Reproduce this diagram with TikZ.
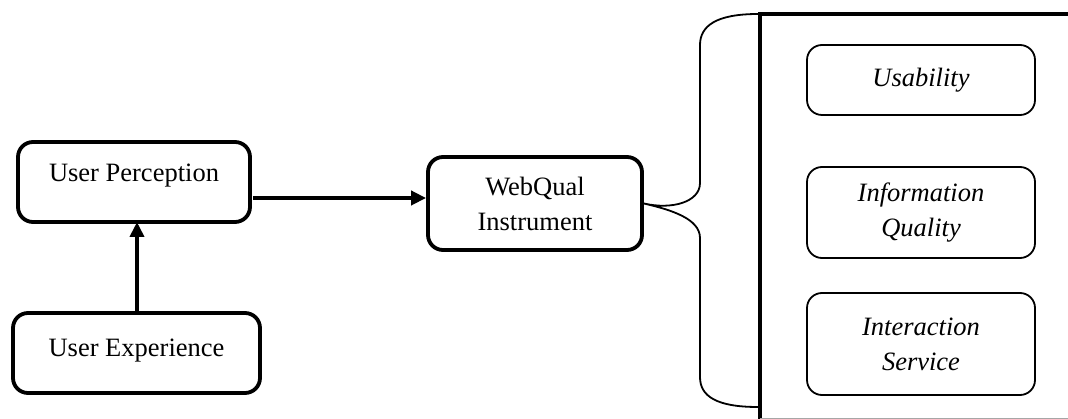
\documentclass[tikz,border=0pt]{standalone}
\usepackage{fontspec}
\setmainfont{Liberation Serif}
\usetikzlibrary{arrows.meta}
\tikzset{
  mainbox/.style={draw, line width=3.8pt, rounded corners=15pt, inner sep=0pt,
    align=center, font=\fontsize{26.5}{35}\selectfont},
  dimbox/.style={draw, line width=1.8pt, rounded corners=15pt, inner sep=0pt,
    align=center, minimum width=228pt, font=\fontsize{26.5}{35}\selectfont\itshape},
  flow/.style={line width=3.8pt, -{Triangle[length=15pt,width=14pt]}}
}
\begin{document}
\begin{tikzpicture}[x=1pt,y=-1pt]
  \useasboundingbox (0,0) rectangle (1068,419);
  \draw
    (134,182) node[mainbox, minimum width=232pt, text height=40pt, text depth=40pt] (perc){User Perception}
    (136.5,353) node[mainbox, minimum width=247pt, text height=43pt, text depth=37pt] (exp){User Experience}
    (535,203.5) node[mainbox, minimum width=214pt, minimum height=93pt] (web){WebQual\\Instrument};
  \draw
    (921,80) node[dimbox, minimum height=70pt] (usab){Usability}
    (921,212.5) node[dimbox, minimum height=91pt] (info){Information\\Quality}
    (921,344) node[dimbox, minimum height=102pt] (inter){Interaction\\Service};
  \coordinate (frametop) at (760,14);
  \coordinate (framebot) at (760,419);
  \coordinate (frameend) at (1070,14);
  \begin{scope}[flow]
    \draw (exp.north -| 137,0) to (137,222);
    \draw (253,198) to (web.west |- 0,198);
  \end{scope}
  \draw[line width=1.8pt]
    (758,14) .. controls (716,14) and (700,26) .. (700,45) -- (700,183)
    .. controls (700,202) and (672,210) .. (web.east)
    .. controls (672,210) and (700,219) .. (700,238) -- (700,377)
    .. controls (700,396) and (716,407) .. (758,407);
  \draw[line width=3.8pt] (frameend) -- (frametop) -- (framebot);
  \draw[gray!70, line width=1pt] (760,418) -- (1068,418);
\end{tikzpicture}
\end{document}
